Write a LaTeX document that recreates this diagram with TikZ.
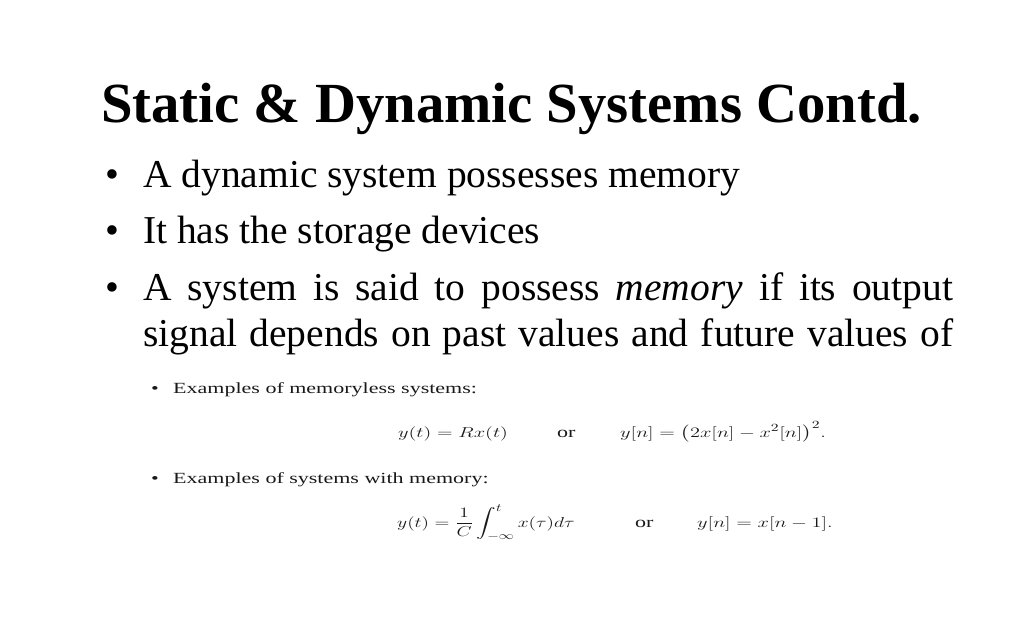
\documentclass[tikz,border=0pt]{standalone}
\usepackage{amsmath}
\usepackage{fontspec}
\setmainfont{Liberation Serif}
\usepackage{graphicx}

\newcommand{\wider}[1]{\scalebox{1.42}[1]{#1}}

\begin{document}
\begin{tikzpicture}[x=1pt,y=-1pt]
  \useasboundingbox (0,0) rectangle (1024,640);

  \begin{scope}[every node/.style={anchor=base west,inner sep=0pt}]
    \node (title) [font=\bfseries\fontsize{56.7}{60}\selectfont] at (101,122) {Static \& Dynamic Systems Contd.};

    % bullets of the slide
    \begin{scope}[font=\fontsize{39.5}{44}\selectfont]
      \node (b1) at (105,187) {\textbullet};
      \node (l1) at (143,187) {A dynamic system possesses memory};
      \node (b2) at (105,243) {\textbullet};
      \node (l2) at (143,243) {It has the storage devices};
      \node (b3) at (105,300) {\textbullet};
      \node (l3) at (143,300) {\makebox[810pt][s]{A system is said to possess \emph{memory} if its output}};
      \node (l4) at (143,346) {\makebox[810pt][s]{signal depends on past values and future values of}};
    \end{scope}

    % pasted examples
    \begin{scope}[font=\fontsize{15.5}{18}\selectfont, text=black!90]
      \node (eb1) at (151,393) {\wider{\textbullet}};
      \node (ex1) at (173,393) {\wider{Examples of memoryless systems:}};
      \node (m1) at (398,437) {\wider{$y(t) = Rx(t)$}};
      \node (or1) at (557,437) {\wider{or}};
      \node (m2) at (620,437) {\wider{$y[n] = \bigl(2x[n] - x^2[n]\bigr)^2.$}};
      \node (eb2) at (151,483) {\wider{\textbullet}};
      \node (ex2) at (173,483) {\wider{Examples of systems with memory:}};
      \node (m3) at (397,527) {\scalebox{1.36}[1]{$y(t) = \dfrac{1}{C}\displaystyle\int_{-\infty}^{t} x(\tau)d\tau$}};
      \node (or2) at (635,527) {\wider{or}};
      \node (m4) at (697,527) {\wider{$y[n] = x[n-1].$}};
    \end{scope}
  \end{scope}
\end{tikzpicture}
\end{document}
